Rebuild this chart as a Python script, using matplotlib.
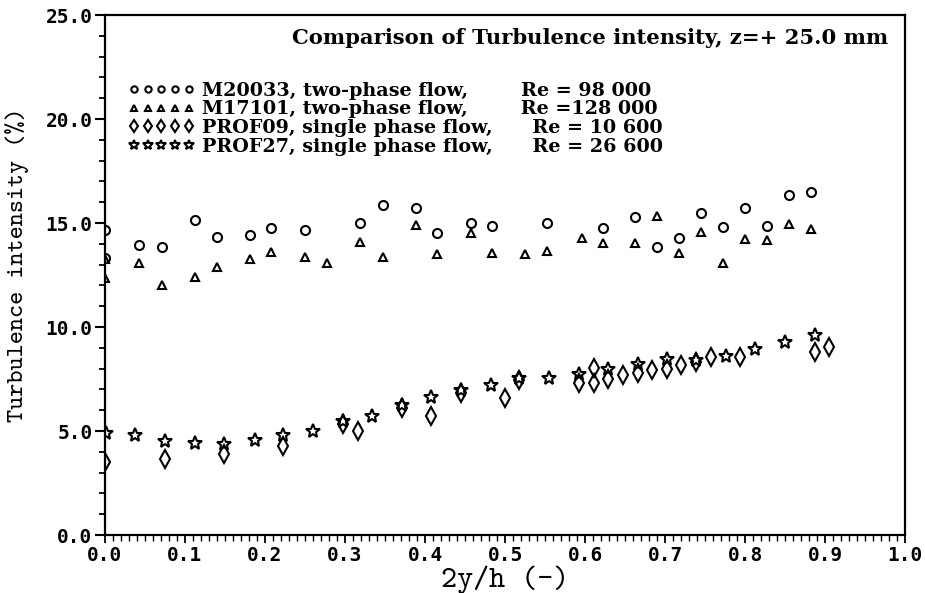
import matplotlib
matplotlib.use("Agg")
import matplotlib.pyplot as plt
from matplotlib.ticker import MultipleLocator, FormatStrFormatter

# M20033, two-phase flow (circles)
m20033_x = [0.0, 0.0, 0.043, 0.071, 0.112, 0.14, 0.181, 0.208, 0.25, 0.319, 0.347, 0.389, 0.415,
            0.457, 0.484, 0.553, 0.622, 0.663, 0.69, 0.718, 0.745, 0.772, 0.8, 0.828, 0.855, 0.883]
m20033_y = [14.65, 13.3, 13.93, 13.83, 15.13, 14.33, 14.43, 14.78, 14.65, 15.02, 15.86, 15.71, 14.51,
            15.0, 14.86, 15.0, 14.75, 15.31, 13.83, 14.27, 15.49, 14.82, 15.7, 14.85, 16.36, 16.49]

# M17101, two-phase flow (triangles)
m17101_x = [0.0, 0.0, 0.043, 0.071, 0.112, 0.14, 0.181, 0.208, 0.25, 0.278, 0.319, 0.347, 0.389,
            0.415, 0.457, 0.484, 0.525, 0.553, 0.596, 0.622, 0.663, 0.69, 0.718, 0.745, 0.772,
            0.8, 0.828, 0.855, 0.883]
m17101_y = [13.25, 12.35, 13.06, 12.04, 12.42, 12.88, 13.25, 13.62, 13.37, 13.1, 14.1, 13.37, 14.91,
            13.5, 14.53, 13.56, 13.53, 13.67, 14.3, 14.04, 14.04, 15.35, 13.57, 14.57, 13.08,
            14.24, 14.2, 14.94, 14.73]

# PROF09, single phase flow (diamonds)
prof09_x = [0.0, 0.075, 0.149, 0.223, 0.298, 0.316, 0.371, 0.408, 0.445, 0.5, 0.517, 0.592, 0.611,
            0.611, 0.629, 0.647, 0.666, 0.684, 0.703, 0.72, 0.739, 0.757, 0.794, 0.887, 0.905]
prof09_y = [3.51, 3.64, 3.9, 4.27, 5.36, 5.01, 6.12, 5.73, 6.84, 6.57, 7.45, 7.29, 8.02,
            7.33, 7.49, 7.67, 7.78, 7.91, 7.97, 8.18, 8.31, 8.55, 8.58, 8.79, 9.02]

# PROF27, single phase flow (stars)
prof27_x = [0.001, 0.038, 0.075, 0.112, 0.149, 0.187, 0.223, 0.26, 0.298, 0.334, 0.371, 0.408,
            0.445, 0.482, 0.517, 0.555, 0.592, 0.629, 0.666, 0.703, 0.739, 0.776, 0.813, 0.85, 0.887]
prof27_y = [4.91, 4.80, 4.51, 4.44, 4.36, 4.56, 4.8, 4.99, 5.47, 5.73, 6.25, 6.62,
            6.97, 7.21, 7.57, 7.57, 7.73, 7.99, 8.23, 8.47, 8.42, 8.63, 8.95, 9.26, 9.63]

names = ["M20033, two-phase flow,", "M17101, two-phase flow,",
         "PROF09, single phase flow,", "PROF27, single phase flow,"]
reynolds = ["Re = 98 000", "Re =128 000", "Re = 10 600", "Re = 26 600"]
gaps = [8, 8, 6, 6]

title = "Comparison of Turbulence intensity, z=+ 25.0 mm"

fig = plt.figure(figsize=(9.25, 5.93), dpi=100)
ax = fig.add_axes([0.1135, 0.0978, 0.8649, 0.8769])

style = dict(linestyle="none", color="black", markerfacecolor="none", markeredgewidth=1.5)
series = [
    (m20033_x, m20033_y, "o", 6.5),
    (m17101_x, m17101_y, "^", 6.0),
    (prof09_x, prof09_y, "d", 9.0),
    (prof27_x, prof27_y, "*", 10.5),
]
handles = []
for (xs, ys, mk, ms), name, re_txt, g in zip(series, names, reynolds, gaps):
    h, = ax.plot(xs, ys, marker=mk, markersize=ms, label=name + " " * g + re_txt, **style)
    handles.append(h)

leg = ax.legend(handles=handles, loc="upper left", bbox_to_anchor=(0.029, 0.872),
                frameon=False, numpoints=5, markerscale=0.7, handlelength=3.45,
                handletextpad=0.4, labelspacing=0.04, borderpad=0, borderaxespad=0,
                prop=dict(family="DejaVu Serif", weight="bold", size=13.8))

ax.text(0.979, 0.955, title, transform=ax.transAxes, ha="right", va="center",
        family="DejaVu Serif", weight="bold", fontsize=15.2)

ax.set_xlim(0, 1.0)
ax.set_ylim(0, 25)
ax.xaxis.set_major_locator(MultipleLocator(0.1))
ax.xaxis.set_minor_locator(MultipleLocator(0.01))
ax.yaxis.set_major_locator(MultipleLocator(5))
ax.yaxis.set_minor_locator(MultipleLocator(1))
ax.xaxis.set_major_formatter(FormatStrFormatter("%.1f"))
ax.yaxis.set_major_formatter(FormatStrFormatter("%.1f"))

ax.tick_params(axis="y", which="major", direction="out", length=7, width=1.5, pad=2)
ax.tick_params(axis="y", which="minor", direction="out", length=4, width=1.3)
ax.tick_params(axis="x", which="major", direction="out", length=6, width=1.3, pad=2)
ax.tick_params(axis="x", which="minor", direction="out", length=4, width=1.0)
for lab in ax.get_xticklabels() + ax.get_yticklabels():
    lab.set_fontfamily("DejaVu Sans Mono")
    lab.set_fontweight("bold")
    lab.set_fontsize(14)

for sp in ax.spines.values():
    sp.set_linewidth(1.6)

ax.set_xlabel("2y/h (-)", family="cmtt10", fontsize=22, labelpad=0)
ax.set_ylabel("Turbulence intensity (%)", family="cmtt10", fontsize=18)
ax.yaxis.set_label_coords(-0.095, 0.52)

fig.savefig("out.png", dpi=100, facecolor="white")
